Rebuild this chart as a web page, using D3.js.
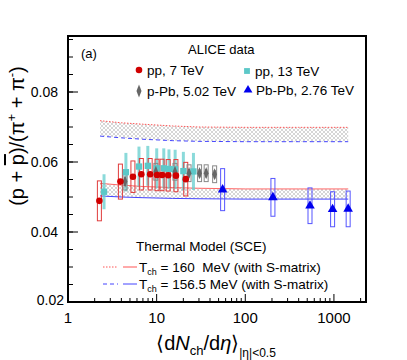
<!DOCTYPE html>
<html>
<head>
<meta charset="utf-8">
<script src="https://cdn.jsdelivr.net/npm/d3@7"></script>
<style>
	body { margin: 0; background: #fff; }
	text { font-family: "Liberation Sans", Arial, Helvetica, sans-serif; }
</style>
</head>
<body>
<script>
// pp 7 TeV (red circles, open boxes = sys)
const pp7X = [2.26, 3.9, 5.4, 6.72, 8.45, 10.1, 11.5, 13.5, 16.5, 21.3];
const pp7Y = [0.0489, 0.0544, 0.0558, 0.0565, 0.0565, 0.0563, 0.0563, 0.0562, 0.0561, 0.0551];
const pp7Sys = [0.0057, 0.005, 0.0045, 0.0045, 0.0045, 0.0045, 0.0045, 0.0045, 0.0046, 0.0048];

// pp 13 TeV (cyan squares)
const pp13X = [2.55, 4.5, 6.32, 7.95, 10.02, 12.04, 13.77, 16.17, 20.02, 26.02];
const pp13Y = [0.0515, 0.0571, 0.0587, 0.0589, 0.0582, 0.0582, 0.058, 0.0579, 0.0574, 0.0573];
const pp13Err = [0.005, 0.0055, 0.0057, 0.0057, 0.0057, 0.0057, 0.0056, 0.0056, 0.0055, 0.0053];

// p-Pb 5.02 TeV (grey diamonds)
const pPbX = [4.4, 9.8, 16.1, 23.2, 30.5, 36.2, 45.1];
const pPbY = [0.0544, 0.0572, 0.0572, 0.0568, 0.0568, 0.0568, 0.0565];
const pPbStat = [0.0012, 0.0012, 0.0012, 0.0012, 0.0012, 0.0012, 0.0012];
const pPbSys = [0.0024, 0.0024, 0.0024, 0.0024, 0.0024, 0.0024, 0.0024];

// Pb-Pb 2.76 TeV (blue triangles)
const pbpbX = [55.5, 205, 537, 966, 1447];
const pbpbY = [0.0521, 0.0499, 0.0475, 0.0465, 0.0466];
const pbpbSys = [0.006, 0.0054, 0.0051, 0.005, 0.0051];

// thermal model (SCE) curves
const modelX = [2.3, 4, 7, 15, 30, 100, 400, 1450];
const t160Dotted = [0.0718, 0.0712, 0.0708, 0.0703, 0.0700, 0.0699, 0.0699, 0.0699];
const t156Dashed = [0.0674, 0.0669, 0.0665, 0.0661, 0.0659, 0.0658, 0.0658, 0.0658];
const t160Solid = [0.0539, 0.0534, 0.0530, 0.0527, 0.0525, 0.0523, 0.0523, 0.0523];
const t156Solid = [0.0503, 0.0500, 0.0498, 0.0496, 0.0495, 0.0494, 0.0494, 0.0494];

const xTicks = [1, 10, 100, 1000];
const yTicks = [0.02, 0.04, 0.06, 0.08];

const width = 407;
const height = 360;
const margin = {left: 68, right: 41, top: 36, bottom: 58};

const svg = d3.select("body").append("svg")
	.attr("width", width)
	.attr("height", height);

const x = d3.scaleLog().domain([1, 2300]).range([margin.left, width - margin.right]);
const y = d3.scaleLinear().domain([0.02, 0.096]).range([height - margin.bottom, margin.top]);

// hatch pattern for the model bands
const defs = svg.append("defs");
const pat = defs.append("pattern")
	.attr("id", "hatch")
	.attr("patternUnits", "userSpaceOnUse")
	.attr("width", 4).attr("height", 4);
pat.append("path").attr("d", "M0,0L4,4M4,0L0,4")
	.attr("stroke", "#c4c4c4").attr("stroke-width", 0.7);

function band(top, bottom) {
	const area = d3.area()
		.x(function(d, i) { return x(modelX[i]); })
		.y0(function(d, i) { return y(bottom[i]); })
		.y1(function(d) { return y(d); });
	svg.append("path").datum(top)
		.attr("d", area)
		.attr("fill", "url(#hatch)");
}

function curve(vals, color, dash) {
	const line = d3.line()
		.x(function(d, i) { return x(modelX[i]); })
		.y(function(d) { return y(d); });
	svg.append("path").datum(vals)
		.attr("d", line)
		.attr("fill", "none")
		.attr("stroke", color)
		.attr("stroke-width", 1)
		.attr("stroke-dasharray", dash);
}

band(t160Dotted, t156Dashed);
band(t160Solid, t156Solid);
curve(t160Dotted, "#ff5555", "1.5,1.5");
curve(t156Dashed, "#4444ff", "4,3");
curve(t160Solid, "#ff6666", null);
curve(t156Solid, "#4444ff", null);

// boxes for systematic errors
function boxes(xs, ys, errs, color, w) {
	svg.append("g").selectAll("rect")
		.data(ys)
		.enter().append("rect")
		.attr("x", function(d, i) { return x(xs[i]) - w / 2; })
		.attr("y", function(d, i) { return y(d + errs[i]); })
		.attr("width", w)
		.attr("height", function(d, i) { return y(d - errs[i]) - y(d + errs[i]); })
		.attr("fill", "none")
		.attr("stroke", color)
		.attr("stroke-width", 1);
}

function bars(xs, ys, errs, color, w) {
	svg.append("g").selectAll("line")
		.data(ys)
		.enter().append("line")
		.attr("x1", function(d, i) { return x(xs[i]); })
		.attr("x2", function(d, i) { return x(xs[i]); })
		.attr("y1", function(d, i) { return y(d + errs[i]); })
		.attr("y2", function(d, i) { return y(d - errs[i]); })
		.attr("stroke", color)
		.attr("stroke-width", w);
}

function markers(xs, ys, type, size, color, rot) {
	svg.append("g").selectAll("path")
		.data(ys)
		.enter().append("path")
		.attr("d", d3.symbol().type(type).size(size))
		.attr("transform", function(d, i) {
			return "translate(" + x(xs[i]) + "," + y(d) + ")" + (rot ? " " + rot : "");
		})
		.attr("fill", color);
}

bars(pp13X, pp13Y, pp13Err, "rgba(100,205,205,0.75)", 3);
boxes(pp7X, pp7Y, pp7Sys, "#e03c3c", 4);
boxes(pPbX, pPbY, pPbSys, "#888888", 4);
bars(pPbX, pPbY, pPbStat, "#666666", 2);
markers(pp13X, pp13Y, d3.symbolSquare, 40, "#5cc8c8");
markers(pPbX, pPbY, d3.symbolDiamond, 30, "#666666", "scale(0.8,1.2)");
markers(pp7X, pp7Y, d3.symbolCircle, 34, "#d00000");
boxes(pbpbX, pbpbY, pbpbSys, "#5555ff", 4);
markers(pbpbX, pbpbY, d3.symbolTriangle, 40, "#0000ee");

// frame
const x0 = margin.left, x1 = width - margin.right;
const y0 = height - margin.bottom, y1 = margin.top;
svg.append("rect")
	.attr("x", x0).attr("y", y1)
	.attr("width", x1 - x0).attr("height", y0 - y1)
	.attr("fill", "none").attr("stroke", "#000").attr("stroke-width", 2);

// x ticks, inside the frame
const xMinor = [];
[1, 10, 100, 1000].forEach(function(dec) {
	for (let k = 2; k <= 9; k++) {
		if (dec * k <= 2300) xMinor.push(dec * k);
	}
});
svg.append("g").selectAll("line")
	.data(xMinor).enter().append("line")
	.attr("x1", function(d) { return x(d); }).attr("x2", function(d) { return x(d); })
	.attr("y1", y0).attr("y2", y0 - 4)
	.attr("stroke", "#000");
svg.append("g").selectAll("line")
	.data(xTicks).enter().append("line")
	.attr("x1", function(d) { return x(d); }).attr("x2", function(d) { return x(d); })
	.attr("y1", y0).attr("y2", y0 - 8)
	.attr("stroke", "#000");
svg.append("g").selectAll("text")
	.data(xTicks).enter().append("text")
	.attr("x", function(d) { return x(d); })
	.attr("y", y0 + 21)
	.attr("text-anchor", "middle")
	.attr("font-size", 15)
	.text(function(d) { return d; });

// y ticks
const yMinor = d3.range(0.02, 0.0961, 0.005);
svg.append("g").selectAll("line")
	.data(yMinor).enter().append("line")
	.attr("x1", x0).attr("x2", x0 + 5)
	.attr("y1", function(d) { return y(d); }).attr("y2", function(d) { return y(d); })
	.attr("stroke", "#000");
svg.append("g").selectAll("line")
	.data(yTicks).enter().append("line")
	.attr("x1", x0).attr("x2", x0 + 10)
	.attr("y1", function(d) { return y(d); }).attr("y2", function(d) { return y(d); })
	.attr("stroke", "#000");
svg.append("g").selectAll("text")
	.data(yTicks).enter().append("text")
	.attr("x", function(d, i) { return i === 0 ? x0 - 4 : x0 - 10; })
	.attr("y", function(d, i) { return y(d) + (i === 0 ? 3 : 5); })
	.attr("text-anchor", "end")
	.attr("font-size", 14)
	.text(function(d) { return d.toFixed(2); });

// axis titles
const yt = svg.append("text")
	.attr("transform", "translate(24,136) rotate(-90)")
	.attr("text-anchor", "middle")
	.attr("font-size", 20);
yt.append("tspan").text("(p + ");
yt.append("tspan").style("text-decoration", "overline").text("p");
yt.append("tspan").text(")/(π");
yt.append("tspan").attr("dy", -8).attr("font-size", 13).text("+");
yt.append("tspan").attr("dy", 8).text(" + π");
yt.append("tspan").attr("dy", -8).attr("font-size", 13).text("-");
yt.append("tspan").attr("dy", 8).text(")");

const xt = svg.append("text")
	.attr("x", 216).attr("y", 350)
	.attr("text-anchor", "middle")
	.attr("font-size", 20);
xt.append("tspan").text("⟨d");
xt.append("tspan").attr("font-style", "italic").text("N");
xt.append("tspan").attr("dy", 5).attr("font-size", 13).text("ch");
xt.append("tspan").attr("dy", -5).text("/d");
xt.append("tspan").attr("font-style", "italic").text("η");
xt.append("tspan").text("⟩");
xt.append("tspan").attr("dy", 7).attr("font-size", 12).text("|η|<0.5");

// legend
svg.append("text").attr("x", 81).attr("y", 58).attr("font-size", 13).text("(a)");
svg.append("text").attr("x", 188).attr("y", 54).attr("font-size", 13).text("ALICE data");

function legItem(type, color, mx, my, label, rot) {
	svg.append("path")
		.attr("d", d3.symbol().type(type).size(34))
		.attr("transform", "translate(" + mx + "," + my + ")" + (rot ? " " + rot : ""))
		.attr("fill", color);
	svg.append("text").attr("x", mx + 8).attr("y", my + 5)
		.attr("font-size", 13.5).text(label);
}
legItem(d3.symbolCircle, "#d00000", 139, 70, "pp, 7 TeV");
legItem(d3.symbolSquare, "#5cc8c8", 247, 71, "pp, 13 TeV");
legItem(d3.symbolDiamond, "#666666", 139, 91, "p-Pb, 5.02 TeV", "scale(0.8,1.2)");
legItem(d3.symbolTriangle, "#0000ee", 248, 90, "Pb-Pb, 2.76 TeV");

svg.append("text").attr("x", 136).attr("y", 251).attr("font-size", 13.5).text("Thermal Model (SCE)");

function modelLeg(my, color, dash, label) {
	svg.append("line").attr("x1", 103).attr("x2", 118).attr("y1", my).attr("y2", my)
		.attr("stroke", color).attr("stroke-dasharray", dash);
	svg.append("line").attr("x1", 123).attr("x2", 137).attr("y1", my).attr("y2", my)
		.attr("stroke", color);
	const t = svg.append("text").attr("x", 139).attr("y", my + 5)
		.attr("font-size", 13.5).style("white-space", "pre");
	t.append("tspan").text("T");
	t.append("tspan").attr("dy", 3).attr("font-size", 9).text("ch");
	t.append("tspan").attr("dy", -3).text(label);
}
modelLeg(267, "#ff5555", "1.5,1.5", " = 160  MeV (with S-matrix)");
modelLeg(284, "#4444ff", "4,3", " = 156.5 MeV (with S-matrix)");
</script>
</body>
</html>
